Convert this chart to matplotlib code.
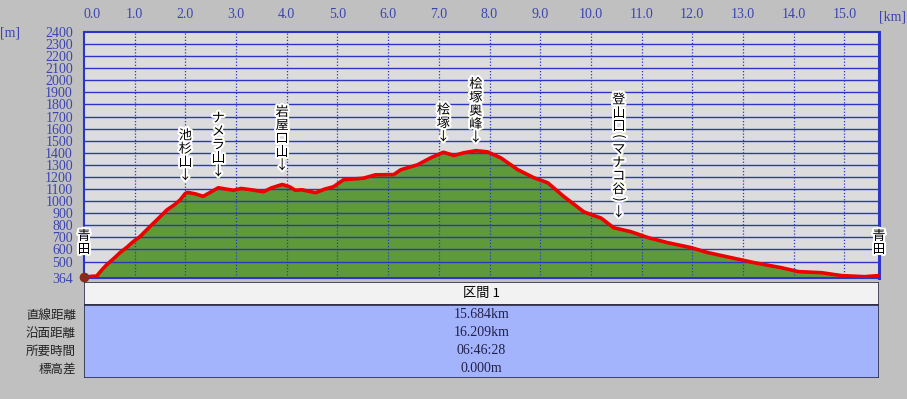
import matplotlib
matplotlib.use("Agg")
import matplotlib.pyplot as plt
import matplotlib.patheffects as pe
from matplotlib.transforms import offset_copy
from matplotlib.patches import Rectangle

# elevation profile (km, m)
dist_km = [0.00, 0.15, 0.25, 0.35, 0.45, 0.60, 0.71, 0.85, 0.97, 1.10, 1.30, 1.45,
           1.64, 1.80, 1.90, 2.00, 2.05, 2.20, 2.35, 2.50, 2.65, 2.80, 2.95, 3.10,
           3.30, 3.54, 3.70, 3.91, 4.05, 4.17, 4.30, 4.57, 4.75, 4.92, 5.12, 5.51,
           5.75, 6.11, 6.25, 6.58, 6.84, 7.09, 7.30, 7.49, 7.73, 7.96, 8.22, 8.56,
           8.88, 9.15, 9.47, 9.86, 10.06, 10.20, 10.45, 10.79, 11.13, 11.52, 11.98,
           12.31, 12.77, 13.22, 13.75, 14.09, 14.55, 14.94, 15.40, 15.684]
elev_m = [370, 378, 380, 430, 475, 530, 574, 620, 665, 705, 789, 850,
          929, 975, 1012, 1065, 1072, 1060, 1040, 1075, 1111, 1100, 1090, 1105,
          1094, 1078, 1110, 1138, 1120, 1090, 1094, 1070, 1100, 1119, 1177, 1190,
          1218, 1220, 1260, 1301, 1359, 1405, 1378, 1400, 1418, 1408, 1359, 1260,
          1193, 1152, 1037, 912, 880, 860, 780, 747, 698, 656, 615,
          574, 532, 491, 450, 417, 408, 384, 375, 384]

# waypoint labels: (km, elevation of the label foot, text)
waypoints = [
    (0.0, 598, "青田"),
    (2.0, 1210, "池杉山↓"),
    (2.65, 1243, "ナメラ山↓"),
    (3.91, 1293, "岩屋口山↓"),
    (7.09, 1532, "桧塚↓"),
    (7.73, 1524, "桧塚奥峰↓"),
    (10.55, 904, "登山口(マナコ谷)↓"),
    (15.684, 598, "青田"),
]

y_ticks = [364] + list(range(500, 2500, 100))
x_ticks = list(range(0, 16))

row_labels = ["直線距離", "沿面距離", "所要時間", "標高差"]
row_values = ["15.684km", "16.209km", "06:46:28", "0.000m"]
section_name = "区間 1"

BG = "#c0c0c0"
BLUE = "#2b36c4"
TICK_BLUE = "#3b44b0"
JP = ["Noto Sans CJK JP", "DejaVu Sans"]
NUM = "Liberation Serif"

W, H = 907, 399
fig = plt.figure(figsize=(W / 100, H / 100), dpi=100, facecolor=BG)


def box(x0, y0, x1, y1):
    # pixel box (top-left origin) -> figure fraction rect
    return [x0 / W, 1 - y1 / H, (x1 - x0) / W, (y1 - y0) / H]


ax = fig.add_axes(box(84, 32, 879, 278))
ax.set_facecolor("#dcdcdc")
ax.set_xlim(0, 15.684)
ax.set_ylim(364, 2400)

ax.fill_between(dist_km, 364, elev_m, color="#5f9a3a", zorder=1)
for y in range(500, 2400, 100):
    ax.axhline(y, color=BLUE, lw=1.0, zorder=2)
for x in x_ticks[1:]:
    ax.axvline(x, color=BLUE, lw=0.9, ls=(0, (1, 1.5)), zorder=2)
ax.plot(dist_km, elev_m, color="#ee0000", lw=2.6, zorder=3, solid_capstyle="round")
ax.plot([0], [372], marker="o", ms=6, color="#8a2a1a", zorder=4, clip_on=False)

for s in ax.spines.values():
    s.set_color(BLUE)
    s.set_linewidth(1.5)
ax.spines["right"].set_linewidth(2.2)

ax.set_yticks(y_ticks)
ax.set_yticklabels([str(v) for v in y_ticks], fontname=NUM, fontsize=10, color=TICK_BLUE)
ax.xaxis.tick_top()
ax.set_xticks(x_ticks)
ax.set_xticklabels([f"{v:.1f}" for v in x_ticks], fontname=NUM, fontsize=10, color=TICK_BLUE)
ax.tick_params(axis="both", length=0)
ax.tick_params(axis="y", pad=8)
ax.tick_params(axis="x", pad=8)
ax.get_xticklabels()[0].set_horizontalalignment("left")

fig.text(10 / W, 1 - 33 / H, "[m]", fontname=NUM, fontsize=10, color=TICK_BLUE,
         ha="center", va="center")
fig.text(893 / W, 1 - 17 / H, "[km]", fontname=NUM, fontsize=10, color=TICK_BLUE,
         ha="center", va="center")

# vertical waypoint labels, stacked from the bottom up
halo = [pe.withStroke(linewidth=3, foreground="white")]
for km, foot, label in waypoints:
    dy = 0.0
    for ch in reversed(label):
        paren = ch in "()"
        tr = offset_copy(ax.transData, fig=fig, x=0, y=dy, units="points")
        ax.text(km, foot, ch, transform=tr, family=JP, fontsize=9.5, color="black",
                ha="center", va="center", rotation=-90 if paren else 0,
                rotation_mode="anchor", zorder=6, clip_on=False, path_effects=halo)
        dy += 7.0 if paren else 9.6

# summary table below the profile
tab = fig.add_axes(box(84, 282, 879, 378))
tab.set_xlim(0, 1)
tab.set_ylim(96, 0)
tab.axis("off")
tab.add_patch(Rectangle((0, 0), 1, 23, facecolor="#f2f2f2", edgecolor="#2c2c48", lw=1.2))
tab.add_patch(Rectangle((0, 23), 1, 73, facecolor="#a4b4fc", edgecolor="#2c2c48", lw=1.2))
tab.text(0.5, 11.5, section_name, family=JP, fontsize=9.5, ha="center", va="center")

for i, (lab, val) in enumerate(zip(row_labels, row_values)):
    yc = 33 + i * 18
    tab.text(0.5, yc, val, fontname=NUM, fontsize=10, color="#20204a",
             ha="center", va="center")
    fig.text(76 / W, 1 - (282 + yc) / H, lab, family=JP, fontsize=9, color="#222222",
             ha="right", va="center")

fig.savefig("out.png", dpi=100, facecolor=BG)
